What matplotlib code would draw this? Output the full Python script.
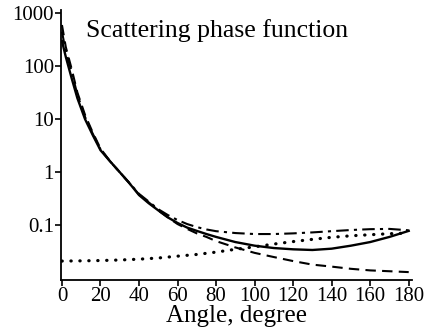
import numpy as np
import matplotlib
matplotlib.use("Agg")
import matplotlib.pyplot as plt

plt.rcParams['font.family'] = ['Liberation Serif', 'DejaVu Serif']

# angles (degree) and phase function values
angle = [0, 2, 5, 8, 12, 16, 20, 25, 30, 35, 40, 45, 50, 55, 60, 65, 70, 75, 80,
         90, 100, 110, 120, 130, 140, 150, 160, 170, 180]
solid = [300, 150, 60, 25, 10, 5.0, 2.6, 1.6, 1.0, 0.62, 0.37, 0.26, 0.19, 0.14, 0.11,
         0.09, 0.078, 0.068, 0.06, 0.048, 0.041, 0.037, 0.035, 0.034, 0.036, 0.041,
         0.048, 0.06, 0.078]
dashed = [600, 230, 90, 32, 12, 5.6, 2.8, 1.6, 1.0, 0.62, 0.38, 0.27, 0.19, 0.14, 0.105,
          0.085, 0.07, 0.06, 0.05, 0.038, 0.03, 0.025, 0.021, 0.018, 0.0165, 0.015,
          0.014, 0.0135, 0.013]
dashdot = [450, 190, 80, 29, 11, 5.3, 2.7, 1.6, 1.0, 0.63, 0.39, 0.28, 0.2, 0.155, 0.125,
           0.105, 0.092, 0.083, 0.077, 0.071, 0.068, 0.068, 0.07, 0.073, 0.077, 0.081,
           0.084, 0.085, 0.08]
dot_angle = [0, 10, 20, 30, 40, 50, 60, 70, 80, 90, 100, 110, 120, 130, 140, 150, 160, 170, 180]
dotted = [0.021, 0.0212, 0.0215, 0.022, 0.0228, 0.024, 0.026, 0.028, 0.031, 0.035, 0.039,
          0.044, 0.049, 0.054, 0.059, 0.063, 0.066, 0.069, 0.071]

fig = plt.figure(figsize=(4.25, 3.35), dpi=100)
ax = fig.add_axes([0.1435, 0.164, 0.825, 0.806])

ax.plot(angle, solid, color='black', lw=1.7, ls='-')
ax.plot(angle, dashed, color='black', lw=1.5, ls=(0, (5, 3)))
ax.plot(angle, dashdot, color='black', lw=1.5, ls=(0, (6, 2.5, 1.5, 2.5)))
ax.plot(dot_angle, dotted, color='black', lw=2.3, ls=(0, (0.1, 2.7)), dash_capstyle='round')

ax.set_yscale('log')
ax.set_xlim(-0.5, 181.5)
ax.set_ylim(0.0092, 1150)
ax.set_xticks(range(0, 181, 20))
ax.set_yticks([0.1, 1, 10, 100, 1000])
ax.set_yticklabels(['0.1', '1', '10', '100', '1000'])
ax.minorticks_off()

for s in ['top', 'right']:
    ax.spines[s].set_visible(False)
for s in ['left', 'bottom']:
    ax.spines[s].set_linewidth(1.3)
ax.tick_params(labelsize=15, width=1.2, length=4, pad=1)

ax.set_xlabel('Angle, degree', fontsize=18, labelpad=-1)
ax.text(0.07, 0.965, 'Scattering phase function', transform=ax.transAxes,
        fontsize=18.5, va='top', ha='left')

fig.savefig('out.png', dpi=100)
